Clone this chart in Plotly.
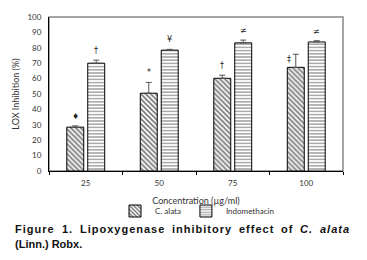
import plotly.graph_objects as go

categories = ["25", "50", "75", "100"]
c_alata = [28.5, 50.5, 60.2, 67.3]
c_alata_err = [0.8, 7.0, 2.0, 8.5]
indomethacin = [70.0, 78.5, 83.2, 83.8]
indomethacin_err = [2.0, 0.5, 1.8, 0.8]
c_alata_marks = ["♦", "*", "†", "‡"]
indo_marks = ["†", "¥", "≠", "≠"]

FONT = "Lato"
SYM = "DejaVu Sans"
OFF = 8  # default page body margin
W, H = 367 - OFF, 260 - OFF
L, T = 49 - OFF, 17 - OFF
R, B = 24, 89
PW, PH = W - L - R, H - T - B


def px(xp):  # page pixel -> paper x
    return (xp - OFF - L) / PW


def py(yp):  # page pixel -> paper y
    return (H - B - (yp - OFF)) / PH


fig = go.Figure()
fig.add_trace(go.Bar(
    x=categories, y=c_alata, name="C. alata",
    marker=dict(color="white", line=dict(color="black", width=1),
                pattern=dict(shape="\\", fgcolor="black", bgcolor="white", size=3.5, solidity=0.55)),
    error_y=dict(type="data", array=c_alata_err, arrayminus=[0] * 4, symmetric=False,
                 color="#555", thickness=1, width=3),
))
fig.add_trace(go.Bar(
    x=categories, y=indomethacin, name="Indomethacin",
    marker=dict(color="white", line=dict(color="black", width=1),
                pattern=dict(shape="-", fgcolor="#444", bgcolor="white", size=3.2, solidity=0.45)),
    error_y=dict(type="data", array=indomethacin_err, arrayminus=[0] * 4, symmetric=False,
                 color="#555", thickness=1, width=3),
))

annotations = []
for i, cat in enumerate(categories):
    if c_alata_marks[i] == "‡":
        annotations.append(dict(x=i, y=c_alata[i] + c_alata_err[i] * 0.6, xref="x", yref="y",
                                text=c_alata_marks[i], showarrow=False, xshift=-17,
                                yanchor="middle", font=dict(family=SYM, size=8, color="#222")))
    else:
        annotations.append(dict(x=i, y=c_alata[i] + c_alata_err[i], xref="x", yref="y",
                                text=c_alata_marks[i], showarrow=False, xshift=-10.5, yshift=3,
                                yanchor="bottom", font=dict(family=SYM, size=8, color="#222")))
    annotations.append(dict(x=i, y=indomethacin[i] + indomethacin_err[i], xref="x", yref="y",
                            text=indo_marks[i], showarrow=False, xshift=10.5, yshift=3,
                            yanchor="bottom", font=dict(family=SYM, size=8, color="#222")))

# caption (word-positioned to mimic justified, letter-spaced text)
cap_words = ["Figure", "1.", "Lipoxygenase", "inhibitory", "effect", "of", "<i>C.</i>", "<i>alata</i>"]
cap_x = [13, 59.5, 78, 170, 237, 279, 298, 318]
SP = '<span style="letter-spacing:1px">'
for w, xp in zip(cap_words, cap_x):
    annotations.append(dict(x=px(xp), y=py(229), xref="paper", yref="paper",
                            text=SP + "<b>" + w + "</b></span>", showarrow=False, xanchor="left",
                            yanchor="middle",
                            font=dict(family="Liberation Sans", size=11, color="#111")))
annotations.append(dict(x=px(13), y=py(244), xref="paper", yref="paper",
                        text="<b>(Linn.) Robx.</b>", showarrow=False, xanchor="left", yanchor="middle",
                        font=dict(family="Liberation Sans", size=11, color="#111")))

fig.update_layout(
    width=W, height=H,
    margin=dict(l=L, r=R, t=T, b=B, autoexpand=False),
    paper_bgcolor="white", plot_bgcolor="white",
    barmode="group", bargap=0.43, bargroupgap=0.19,
    font=dict(family=FONT, size=8, color="#333"),
    showlegend=True,
    legend=dict(orientation="h", x=px(197), xanchor="center", y=py(211), yanchor="middle",
                font=dict(family=FONT, size=8, color="#333"), itemwidth=30,
                bgcolor="rgba(0,0,0,0)"),
    annotations=annotations,
    shapes=[dict(type="rect", xref="paper", yref="paper", x0=0, x1=1, y0=0, y1=1,
                 line=dict(color="#888", width=1.5), layer="below")],
)
fig.update_xaxes(
    type="category", showline=True, linecolor="black", linewidth=1, automargin=False,
    ticks="outside", tickson="boundaries", ticklen=3, tickcolor="black",
    tickfont=dict(family=FONT, size=8, color="#333"), ticklabelstandoff=4,
    title=dict(text="Concentration (µg/ml)", font=dict(family=FONT, size=9, color="#333"), standoff=11),
    showgrid=False,
)
fig.update_yaxes(
    range=[0, 100], dtick=10, showline=True, linecolor="black", linewidth=1, automargin=False,
    ticks="", tickfont=dict(family=FONT, size=8, color="#333"), ticklabelstandoff=5,
    title=dict(text="LOX Inhibition (%)", font=dict(family=FONT, size=9, color="#333"), standoff=6),
    showgrid=False, zeroline=False,
)
fig.write_html("out.html")
